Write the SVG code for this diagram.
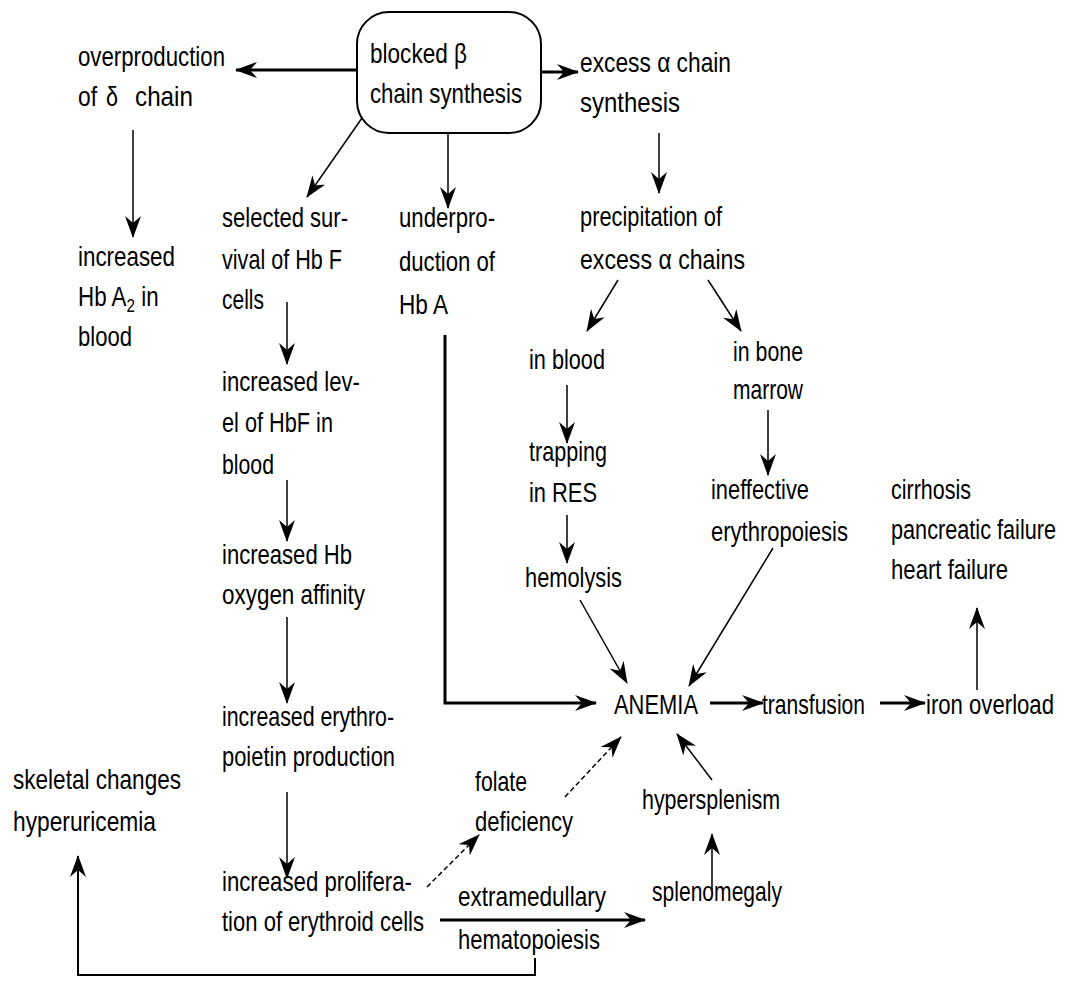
<svg xmlns="http://www.w3.org/2000/svg" width="1065" height="990" viewBox="0 0 1065 990">
<defs>
<marker id="ah" viewBox="0 0 22 16" refX="21" refY="8" markerWidth="22" markerHeight="16" markerUnits="userSpaceOnUse" orient="auto">
<path d="M0,0 L22,8 L0,16 L7,8 z" fill="#000"/>
</marker>
<style>
text{font-family:"Liberation Sans Narrow","Liberation Sans",Arial,sans-serif;font-size:28px;fill:#000;}
.c{fill:none;stroke:#000;stroke-width:1.5;}
.k{fill:none;stroke:#000;stroke-width:3;}
.a{marker-end:url(#ah);}
</style>
</defs>
<rect width="1065" height="990" fill="#fff"/>
<g id="connectors">
<path class="k a" d="M357,70 L236,70"/>
<path class="k a" d="M541,72 L578,72"/>
<path class="c a" d="M133,130 L133,237"/>
<path class="c a" d="M362,118 L307,197"/>
<path class="c a" d="M448,133 L448,208"/>
<path class="c a" d="M287,302 L287,364"/>
<path class="c a" d="M287,480 L287,541"/>
<path class="c a" d="M287,617 L287,703"/>
<path class="c a" d="M287,792 L287,878"/>
<path class="k a" d="M445,335 L445,703 L596,703"/>
<path class="c a" d="M659,133 L659,193"/>
<path class="c a" d="M618,280 L587,331"/>
<path class="c a" d="M708,280 L741,331"/>
<path class="c a" d="M567,385 L567,443"/>
<path class="c a" d="M567,515 L567,563"/>
<path class="c a" d="M768,410 L768,475"/>
<path class="c a" d="M580,600 L627,683"/>
<path class="c a" d="M773,548 L689,686"/>
<path class="k a" d="M710,703 L763,703"/>
<path class="k a" d="M880,703 L925,703"/>
<path class="c a" d="M977,690 L977,608"/>
<path class="c a" d="M712,780 L677,734"/>
<path class="c a" d="M712,890 L712,834"/>
<path class="c a" d="M565,797 L621,737" stroke-dasharray="5,3"/>
<path class="c a" d="M427,887 L479,835" stroke-dasharray="5,3"/>
<path class="k a" d="M440,920 L645,920"/>
<path class="k a" d="M535,958 L535,975 L78,975 L78,856" style="stroke-width:2"/>
</g>
<g id="blocked">
<rect x="357" y="12" width="184" height="121" rx="32" ry="32" fill="#fff" stroke="#000" stroke-width="2"/>
<text x="370" y="63" textLength="97" lengthAdjust="spacingAndGlyphs">blocked β</text>
<text x="370" y="103" textLength="152" lengthAdjust="spacingAndGlyphs">chain synthesis</text>
</g>
<g id="overproduction">
<text x="78" y="66" textLength="147" lengthAdjust="spacingAndGlyphs">overproduction</text>
<text x="78" y="106" textLength="19" lengthAdjust="spacingAndGlyphs">of</text>
<text x="106" y="106" textLength="12" lengthAdjust="spacingAndGlyphs">δ</text>
<text x="135" y="106" textLength="58" lengthAdjust="spacingAndGlyphs">chain</text>
</g>
<g id="hba2">
<text x="78" y="266" textLength="97" lengthAdjust="spacingAndGlyphs">increased</text>
<text transform="translate(78,306) scale(0.8,1)">Hb A<tspan font-size="19" dy="6">2</tspan><tspan dy="-6"> in</tspan></text>
<text x="78" y="346" textLength="54" lengthAdjust="spacingAndGlyphs">blood</text>
</g>
<g id="excess">
<text x="580" y="72" textLength="151" lengthAdjust="spacingAndGlyphs">excess α chain</text>
<text x="580" y="112" textLength="100" lengthAdjust="spacingAndGlyphs">synthesis</text>
</g>
<g id="selected">
<text x="222" y="227" textLength="126" lengthAdjust="spacingAndGlyphs">selected sur-</text>
<text x="222" y="269" textLength="120" lengthAdjust="spacingAndGlyphs">vival of Hb F</text>
<text x="222" y="309" textLength="42" lengthAdjust="spacingAndGlyphs">cells</text>
</g>
<g id="underproduction">
<text x="399" y="227" textLength="96" lengthAdjust="spacingAndGlyphs">underpro-</text>
<text x="399" y="271" textLength="96" lengthAdjust="spacingAndGlyphs">duction of</text>
<text x="399" y="314" textLength="49" lengthAdjust="spacingAndGlyphs">Hb A</text>
</g>
<g id="hbf">
<text x="222" y="391" textLength="138" lengthAdjust="spacingAndGlyphs">increased lev-</text>
<text x="222" y="432" textLength="111" lengthAdjust="spacingAndGlyphs">el of HbF in</text>
<text x="222" y="474" textLength="52" lengthAdjust="spacingAndGlyphs">blood</text>
</g>
<g id="affinity">
<text x="222" y="564" textLength="130" lengthAdjust="spacingAndGlyphs">increased Hb</text>
<text x="222" y="604" textLength="143" lengthAdjust="spacingAndGlyphs">oxygen affinity</text>
</g>
<g id="erythropoietin">
<text x="222" y="726" textLength="172" lengthAdjust="spacingAndGlyphs">increased erythro-</text>
<text x="222" y="766" textLength="173" lengthAdjust="spacingAndGlyphs">poietin production</text>
</g>
<g id="proliferation">
<text x="222" y="891" textLength="190" lengthAdjust="spacingAndGlyphs">increased prolifera-</text>
<text x="222" y="931" textLength="202" lengthAdjust="spacingAndGlyphs">tion of erythroid cells</text>
</g>
<g id="precipitation">
<text x="580" y="226" textLength="142" lengthAdjust="spacingAndGlyphs">precipitation of</text>
<text x="580" y="269" textLength="165" lengthAdjust="spacingAndGlyphs">excess α chains</text>
</g>
<g id="inblood">
<text x="529" y="369" textLength="76" lengthAdjust="spacingAndGlyphs">in blood</text>
</g>
<g id="trapping">
<text x="529" y="461" textLength="78" lengthAdjust="spacingAndGlyphs">trapping</text>
<text x="529" y="502" textLength="68" lengthAdjust="spacingAndGlyphs">in RES</text>
</g>
<g id="hemolysis">
<text x="525" y="587" textLength="97" lengthAdjust="spacingAndGlyphs">hemolysis</text>
</g>
<g id="inbone">
<text x="733" y="361" textLength="70" lengthAdjust="spacingAndGlyphs">in bone</text>
<text x="733" y="399" textLength="70" lengthAdjust="spacingAndGlyphs">marrow</text>
</g>
<g id="ineffective">
<text x="711" y="499" textLength="98" lengthAdjust="spacingAndGlyphs">ineffective</text>
<text x="711" y="541" textLength="137" lengthAdjust="spacingAndGlyphs">erythropoiesis</text>
</g>
<g id="cirrhosis">
<text x="891" y="499" textLength="80" lengthAdjust="spacingAndGlyphs">cirrhosis</text>
<text transform="translate(891,539) scale(0.775,1)" textLength="213" lengthAdjust="spacingAndGlyphs">pancreatic failure</text>
<text x="891" y="579" textLength="117" lengthAdjust="spacingAndGlyphs">heart failure</text>
</g>
<g id="anemia">
<text x="614" y="714" textLength="84" lengthAdjust="spacingAndGlyphs">ANEMIA</text>
</g>
<g id="transfusion">
<text x="762" y="714" textLength="103" lengthAdjust="spacingAndGlyphs">transfusion</text>
</g>
<g id="ironoverload">
<text transform="translate(926,714) scale(0.79,1)" textLength="162" lengthAdjust="spacingAndGlyphs">iron overload</text>
</g>
<g id="hypersplenism">
<text x="642" y="809" textLength="138" lengthAdjust="spacingAndGlyphs">hypersplenism</text>
</g>
<g id="splenomegaly">
<text x="652" y="901" textLength="130" lengthAdjust="spacingAndGlyphs">splenomegaly</text>
</g>
<g id="folate">
<text x="475" y="791" textLength="52" lengthAdjust="spacingAndGlyphs">folate</text>
<text x="475" y="831" textLength="98" lengthAdjust="spacingAndGlyphs">deficiency</text>
</g>
<g id="extramedullary">
<text x="458" y="906" textLength="148" lengthAdjust="spacingAndGlyphs">extramedullary</text>
<text x="458" y="949" textLength="142" lengthAdjust="spacingAndGlyphs">hematopoiesis</text>
</g>
<g id="skeletal">
<text x="13" y="789" textLength="168" lengthAdjust="spacingAndGlyphs">skeletal changes</text>
<text x="13" y="831" textLength="143" lengthAdjust="spacingAndGlyphs">hyperuricemia</text>
</g>
</svg>
